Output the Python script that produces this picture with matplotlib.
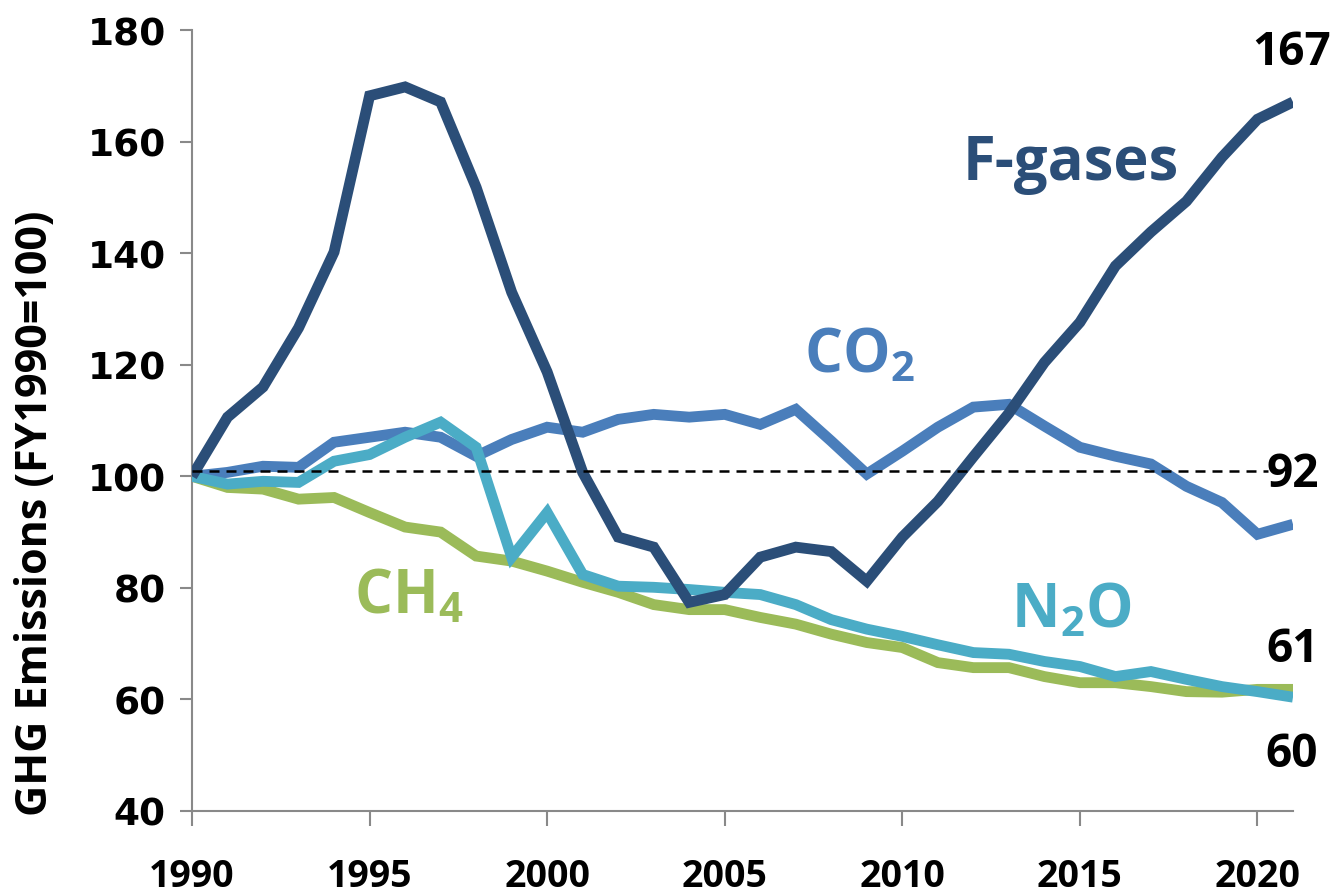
import numpy as np
import matplotlib
matplotlib.use("Agg")
import matplotlib.pyplot as plt

# Data (FY1990 = 100)
years = list(range(1990, 2022))

f_gases = [100, 110.6, 116.0, 126.6, 140.2, 168.2, 169.8, 167.1, 151.8, 133.0,
           118.7, 100.7, 89.1, 87.3, 77.4, 78.8, 85.5, 87.3, 86.5, 81.2,
           89.1, 95.5, 103.5, 111.3, 120.4, 127.6, 137.7, 143.8, 149.3, 157.2,
           164.0, 167.1]

co2 = [100, 100.7, 101.8, 101.6, 106.1, 107.0, 107.9, 107.0, 103.6, 106.6,
       108.8, 107.9, 110.2, 111.1, 110.6, 111.1, 109.3, 112.0, 106.3, 100.4,
       104.5, 108.8, 112.4, 112.9, 109.0, 105.2, 103.6, 102.2, 98.2, 95.3,
       89.6, 91.4]

n2o = [100, 98.6, 99.1, 98.9, 102.7, 103.9, 107.0, 109.7, 105.2, 85.5,
       93.5, 82.4, 80.3, 80.1, 79.7, 79.2, 78.8, 77.0, 74.3, 72.6,
       71.3, 69.8, 68.4, 68.1, 66.8, 65.9, 64.1, 65.0, 63.6, 62.3,
       61.4, 60.4]

ch4 = [100, 98.0, 97.7, 95.9, 96.2, 93.5, 90.9, 90.0, 85.7, 84.8,
       83.0, 81.0, 79.2, 77.0, 76.1, 76.1, 74.7, 73.5, 71.7, 70.2,
       69.3, 66.6, 65.7, 65.7, 64.1, 63.0, 63.0, 62.3, 61.4, 61.3,
       61.8, 61.8]

ref_level = 101
end_labels = ["167", "92", "61", "60"]

c_fgas = "#2B4E78"
c_co2 = "#4A7EBB"
c_n2o = "#4BACC6"
c_ch4 = "#9BBB59"

plt.rcParams['mathtext.fontset'] = 'custom'
plt.rcParams['mathtext.rm'] = 'Open Sans:bold'
plt.rcParams['mathtext.it'] = 'Open Sans:bold'
plt.rcParams['mathtext.bf'] = 'Open Sans:bold'

fig = plt.figure(figsize=(13.37, 8.95), dpi=100)
ax = fig.add_axes([192/1337, 1 - 812/895, (1293 - 192)/1337, (812 - 31)/895])

lw = 7.8
ax.plot(years, ch4, color=c_ch4, lw=lw, solid_capstyle='butt', solid_joinstyle='miter', zorder=2)
ax.plot(years, co2, color=c_co2, lw=lw, solid_capstyle='butt', solid_joinstyle='miter', zorder=3)
ax.plot(years, n2o, color=c_n2o, lw=lw, solid_capstyle='butt', solid_joinstyle='miter', zorder=4)
ax.plot(years, f_gases, color=c_fgas, lw=lw, solid_capstyle='butt', solid_joinstyle='miter', zorder=5)

# dashed reference line
ax.plot([years[0], years[-1] - 0.7], [ref_level, ref_level], color='black',
        lw=1.8, dashes=(4, 2.8), zorder=6)

ax.set_xlim(1990, 2021)
ax.set_ylim(40, 180)
ax.set_xticks(range(1990, 2021, 5))
ax.set_yticks(range(40, 181, 20))

for s in ['top', 'right']:
    ax.spines[s].set_visible(False)
for s in ['left', 'bottom']:
    ax.spines[s].set_color('#898989')
    ax.spines[s].set_linewidth(1.5)

ax.tick_params(axis='y', direction='out', length=9, width=1.5, color='#898989', pad=10)
ax.tick_params(axis='x', direction='out', length=11, width=1.5, color='#898989', pad=22)

for lab in ax.get_yticklabels():
    lab.set_fontfamily('DejaVu Sans')
    lab.set_fontweight('bold')
    lab.set_fontsize(27)
for lab in ax.get_xticklabels():
    lab.set_fontfamily('Open Sans')
    lab.set_fontweight('bold')
    lab.set_fontsize(27)

fig.text(36/1337, 1 - 513/895, "GHG Emissions (FY1990=100)", rotation=90,
         ha='center', va='center', fontsize=31, fontweight='bold',
         family='Open Sans')

# series labels
lab_kw = dict(fontsize=43, fontweight='bold', family='Open Sans', ha='center', va='baseline')
ax.text(2014.74, 153.3, "F-gases", color=c_fgas, **lab_kw)
ax.text(2008.8, 118.9, r"CO$_2$", color=c_co2, **lab_kw)
ax.text(1996.1, 75.7, r"CH$_4$", color=c_ch4, **lab_kw)
ax.text(2014.75, 73.2, r"N$_2$O", color=c_n2o, **lab_kw)

# end values
num_kw = dict(fontsize=33, fontweight='bold', family='Open Sans', ha='center',
              va='baseline', color='black', clip_on=False)
ax.text(2020.96, 173.9, end_labels[0], **num_kw)
ax.text(2021.0, 98.3, end_labels[1], **num_kw)
ax.text(2021.0, 66.9, end_labels[2], **num_kw)
ax.text(2020.95, 48.1, end_labels[3], **num_kw)

fig.savefig("out.png", dpi=100)
